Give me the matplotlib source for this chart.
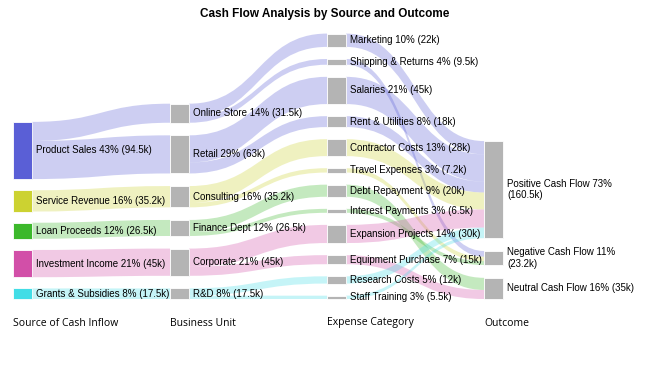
import textwrap

import numpy as np
import matplotlib.pyplot as plt
from matplotlib.path import Path
from matplotlib.patches import PathPatch, Rectangle


title = "Cash Flow Analysis by Source and Outcome"
column_titles = ["Source of Cash Inflow", "Business Unit", "Expense Category", "Outcome"]

sources = ["Product Sales", "Service Revenue", "Loan Proceeds", "Investment Income", "Grants & Subsidies"]
units = ["Online Store", "Retail", "Consulting", "Finance Dept", "Corporate", "R&D"]
expenses = ["Marketing", "Shipping & Returns", "Salaries", "Rent & Utilities", "Contractor Costs",
            "Travel Expenses", "Debt Repayment", "Interest Payments", "Expansion Projects",
            "Equipment Purchase", "Research Costs", "Staff Training"]
outcomes = ["Positive Cash Flow", "Negative Cash Flow", "Neutral Cash Flow"]

source_colors = ["#5a5fd6", "#ccd231", "#3cb82b", "#d24fa8", "#42dde6"]

# flows in thousands
flow_from = ["Product Sales", "Product Sales", "Service Revenue", "Loan Proceeds", "Investment Income", "Grants & Subsidies",
             "Online Store", "Online Store", "Retail", "Retail", "Consulting", "Consulting",
             "Finance Dept", "Finance Dept", "Corporate", "Corporate", "R&D", "R&D",
             "Marketing", "Shipping & Returns", "Salaries", "Rent & Utilities", "Contractor Costs", "Travel Expenses",
             "Debt Repayment", "Interest Payments", "Expansion Projects", "Equipment Purchase", "Research Costs", "Staff Training"]
flow_to = ["Online Store", "Retail", "Consulting", "Finance Dept", "Corporate", "R&D",
           "Marketing", "Shipping & Returns", "Salaries", "Rent & Utilities", "Contractor Costs", "Travel Expenses",
           "Debt Repayment", "Interest Payments", "Expansion Projects", "Equipment Purchase", "Research Costs", "Staff Training",
           "Positive Cash Flow", "Negative Cash Flow", "Positive Cash Flow", "Positive Cash Flow", "Positive Cash Flow", "Negative Cash Flow",
           "Neutral Cash Flow", "Negative Cash Flow", "Positive Cash Flow", "Neutral Cash Flow", "Positive Cash Flow", "Positive Cash Flow"]
flow_value = [31.5, 63, 35.2, 26.5, 45, 17.5,
              22, 9.5, 45, 18, 28, 7.2,
              20, 6.5, 30, 15, 12, 5.5,
              22, 9.5, 45, 18, 28, 7.2,
              20, 6.5, 30, 15, 12, 5.5]

# layout (pixels)
col_left = 13
col_step = 157
node_w = 19
baseline = 299
px_per_k = 0.605
col_gap = [11.2, 12.6, 12.1, 12.8]
gray = "#b4b4b4"


def main():
    columns = [sources, units, expenses, outcomes]
    total = sum(v for f, v in zip(flow_from, flow_value) if f in sources)

    value_in = {}
    value_out = {}
    for f, t, v in zip(flow_from, flow_to, flow_value):
        value_out[f] = value_out.get(f, 0) + v
        value_in[t] = value_in.get(t, 0) + v

    # node colours: sources own colour, everything else gray; links keep the root colour
    root_color = {name: c for name, c in zip(sources, source_colors)}
    for f, t in zip(flow_from, flow_to):
        if t not in root_color and f in root_color:
            root_color[t] = root_color[f]

    nodes = {}
    for ci, col in enumerate(columns):
        vals = [max(value_in.get(n, 0), value_out.get(n, 0)) for n in col]
        heights = [v * px_per_k for v in vals]
        y = baseline - sum(heights) - col_gap[ci] * (len(col) - 1)
        x = col_left + ci * col_step
        for n, v, h in zip(col, vals, heights):
            nodes[n] = dict(x=x, y=y, h=h, v=v, col=ci)
            y += h + col_gap[ci]

    fig = plt.figure(figsize=(6.5, 3.66), dpi=100)
    ax = fig.add_axes([0, 0, 1, 1])
    ax.set_xlim(0, 650)
    ax.set_ylim(366, 0)
    ax.axis("off")

    # links
    out_off = {n: nodes[n]["y"] for n in nodes}
    in_off = {n: nodes[n]["y"] for n in nodes}
    order = sorted(range(len(flow_value)), key=lambda i: (nodes[flow_from[i]]["y"], nodes[flow_to[i]]["y"]))
    link_geo = {}
    for i in order:
        f = flow_from[i]
        link_geo[i] = [out_off[f]]
        out_off[f] += flow_value[i] * px_per_k
    order_in = sorted(range(len(flow_value)), key=lambda i: (nodes[flow_to[i]]["y"], nodes[flow_from[i]]["y"]))
    for i in order_in:
        t = flow_to[i]
        link_geo[i].append(in_off[t])
        in_off[t] += flow_value[i] * px_per_k

    for i in range(len(flow_value)):
        f, t = flow_from[i], flow_to[i]
        w = flow_value[i] * px_per_k
        y0, y1 = link_geo[i]
        x0 = nodes[f]["x"] + node_w
        x1 = nodes[t]["x"]
        xm = (x0 + x1) / 2
        verts = [(x0, y0), (xm, y0), (xm, y1), (x1, y1),
                 (x1, y1 + w), (xm, y1 + w), (xm, y0 + w), (x0, y0 + w), (x0, y0)]
        codes = [Path.MOVETO, Path.CURVE4, Path.CURVE4, Path.CURVE4,
                 Path.LINETO, Path.CURVE4, Path.CURVE4, Path.CURVE4, Path.CLOSEPOLY]
        ax.add_patch(PathPatch(Path(verts, codes), facecolor=root_color[f], alpha=0.3, lw=0, zorder=1))

    # nodes and labels
    for n, d in nodes.items():
        color = root_color[n] if n in sources else gray
        ax.add_patch(Rectangle((d["x"] + 1, d["y"] + 1), node_w, d["h"], facecolor="#000000", alpha=0.08, lw=0, zorder=2))
        ax.add_patch(Rectangle((d["x"], d["y"]), node_w, d["h"], facecolor=color,
                               edgecolor="white", lw=0.6, zorder=3))
        label = f"{n} {d['v'] / total * 100:.0f}% ({round(d['v'], 1):g}k)"
        if d["col"] == 3:
            label = textwrap.fill(label, 28)
        ax.text(d["x"] + node_w + 4, d["y"] + d["h"] / 2, label, fontsize=7.0, family="Liberation Sans",
                ha="left", va="center", color="#000000", zorder=4, linespacing=1.15)

    for ci, name in enumerate(column_titles):
        ax.text(col_left + ci * col_step, 323, name, fontsize=7.5, family="Open Sans",
                ha="left", va="center", color="#000000")

    ax.text(325, 14, title, fontsize=8.5, fontweight="bold", family="Liberation Sans",
            ha="center", va="center", color="#000000")

    fig.savefig("out.png", dpi=100)


if __name__ == "__main__":
    main()
